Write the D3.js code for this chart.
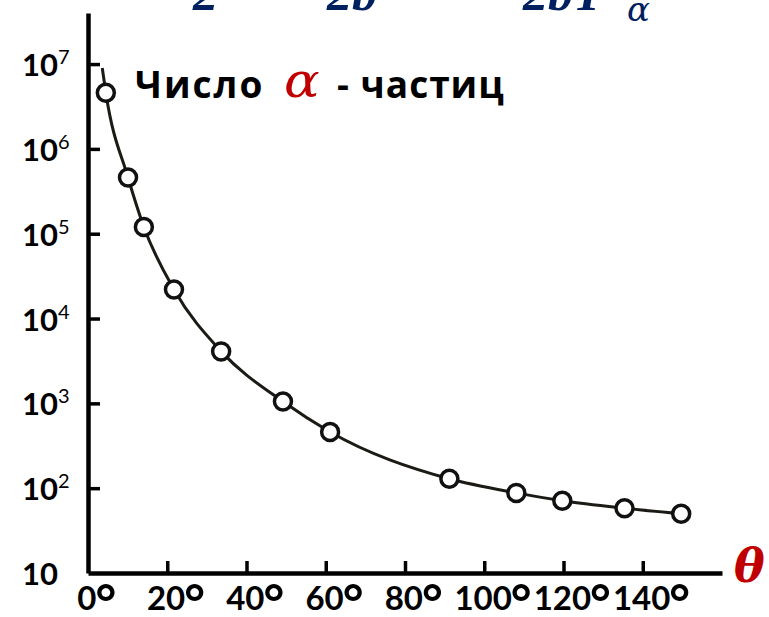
<!DOCTYPE html>
<html>
<head>
<meta charset="utf-8">
<script src="https://cdn.jsdelivr.net/npm/d3@7"></script>
<style>
  html, body { margin: 0; padding: 0; background: #fff; }
  svg { display: block; }
</style>
</head>
<body>
<div id="chart"></div>
<script>
// Scattering of alpha particles: count vs angle (log scale)

// data
const angles = [4.5, 10.1, 14.1, 21.7, 33.6, 49.2, 61.1, 91.2, 108.1, 119.7, 135.4, 149.7];
const counts = [4.6e6, 4.6e5, 1.2e5, 2.2e4, 4.1e3, 1.05e3, 460, 129, 88, 71, 58, 50];
// the drawn curve starts a little above the first point
const curveStartAngle = 3.6, curveStartCount = 9e6;

const xTicks = [0, 20, 40, 60, 80, 100, 120, 140];
const yTicks = [10, 1e2, 1e3, 1e4, 1e5, 1e6, 1e7];

// cut-off formula fragments at the top edge
const formulaParts = ["2", "2b", "2bT"];

const width = 769, height = 617;
const svg = d3.select("#chart").append("svg")
  .attr("width", width)
  .attr("height", height);

const x = d3.scaleLinear().domain([0, 160]).range([88, 722]);
const y = d3.scaleLog().domain([10, 4e7]).range([573, 13]);

const labelFont = "Lato, 'Open Sans', sans-serif";

// x axis
const xAxis = svg.append("g")
  .attr("transform", `translate(0,${y(10)})`)
  .call(d3.axisBottom(x)
    .tickValues(xTicks)
    .tickSize(-12)
    .tickSizeOuter(0)
    .tickPadding(14)
    .tickFormat(""));
xAxis.select(".domain").attr("stroke", "#000").attr("stroke-width", 4.5);
xAxis.selectAll(".tick line").attr("stroke", "#000").attr("stroke-width", 3.5)
  .filter(d => d === 0).remove();
xAxis.selectAll(".tick text").each(function(d) {
  const t = d3.select(this)
    .attr("fill", "#000")
    .attr("font-family", labelFont)
    .attr("font-weight", 700)
    .attr("font-size", 33)
    .attr("dx", "0.25em");
  t.append("tspan").text(d);
  t.append("tspan")
    .attr("font-size", 50)
    .attr("font-weight", 700)
    .attr("dx", -1)
    .attr("dy", 11)
    .text("°");
});

// y axis
const yAxis = svg.append("g")
  .attr("transform", `translate(${x(0)},0)`)
  .call(d3.axisLeft(y)
    .tickValues(yTicks)
    .tickSize(-12)
    .tickSizeOuter(0));
yAxis.select(".domain").attr("stroke", "#000").attr("stroke-width", 4.5);
yAxis.selectAll(".tick line").attr("stroke", "#000").attr("stroke-width", 3.5)
  .filter(d => d === 10).remove();
yAxis.selectAll(".tick text").each(function(d) {
  const t = d3.select(this).text(null)
    .attr("x", -66)
    .attr("dy", "0.37em")
    .attr("text-anchor", "start")
    .attr("fill", "#000")
    .attr("font-family", labelFont)
    .attr("font-weight", 700)
    .attr("font-size", 31);
  const e = Math.round(Math.log10(d));
  t.append("tspan").text("10");
  if (e > 1) {
    t.append("tspan")
      .attr("font-size", 20)
      .attr("font-weight", 400)
      .attr("dy", "-0.6em")
      .text(e);
  }
});

// axis name theta
svg.append("text")
  .attr("x", 734)
  .attr("y", 582)
  .attr("fill", "#c00000")
  .attr("font-family", "'DejaVu Serif', serif")
  .attr("font-style", "italic")
  .attr("font-weight", 700)
  .attr("font-size", 46)
  .text("θ");

// curve
const curvePts = [[curveStartAngle, curveStartCount]].concat(angles.map((a, i) => [a, counts[i]]));
const line = d3.line()
  .x(d => x(d[0]))
  .y(d => y(d[1]))
  .curve(d3.curveMonotoneX);

svg.append("path")
  .datum(curvePts)
  .attr("d", line)
  .attr("fill", "none")
  .attr("stroke", "#1c1a14")
  .attr("stroke-width", 3);

svg.selectAll("circle.pt")
  .data(angles)
  .join("circle")
  .attr("class", "pt")
  .attr("cx", d => x(d))
  .attr("cy", (d, i) => y(counts[i]))
  .attr("r", 8.5)
  .attr("fill", "#fff")
  .attr("stroke", "#111")
  .attr("stroke-width", 3.5);

// series label
const lblFont = "'Open Sans', Lato, sans-serif";
svg.append("text")
  .attr("x", 135).attr("y", 98)
  .attr("font-family", lblFont)
  .attr("font-weight", 700)
  .attr("font-size", 37)
  .attr("letter-spacing", 2)
  .attr("fill", "#000")
  .text("Число");
svg.append("text")
  .attr("x", 284).attr("y", 97)
  .attr("fill", "#c00000")
  .attr("font-family", "'DejaVu Serif', serif")
  .attr("font-style", "italic")
  .attr("font-size", 48)
  .attr("transform", "translate(284,97) scale(1.1,1) translate(-284,-97)")
  .text("α");
svg.append("text")
  .attr("x", 337).attr("y", 98)
  .attr("font-family", lblFont)
  .attr("font-weight", 700)
  .attr("font-size", 37)
  .attr("letter-spacing", 1)
  .attr("fill", "#000")
  .text("- частиц");

// formula fragments (cut off by the top edge)
const fx = [193, 327, 523];
svg.selectAll("text.formula")
  .data(formulaParts)
  .join("text")
  .attr("class", "formula")
  .attr("x", (d, i) => fx[i])
  .attr("y", 10)
  .attr("fill", "#002060")
  .attr("font-family", "'Liberation Serif', serif")
  .attr("font-style", "italic")
  .attr("font-weight", 700)
  .attr("font-size", 50)
  .text(d => d);
svg.append("text")
  .attr("x", 627)
  .attr("y", 21)
  .attr("fill", "#002060")
  .attr("font-family", "'DejaVu Serif', serif")
  .attr("font-style", "italic")
  .attr("font-size", 34)
  .text("α");
</script>
</body>
</html>
